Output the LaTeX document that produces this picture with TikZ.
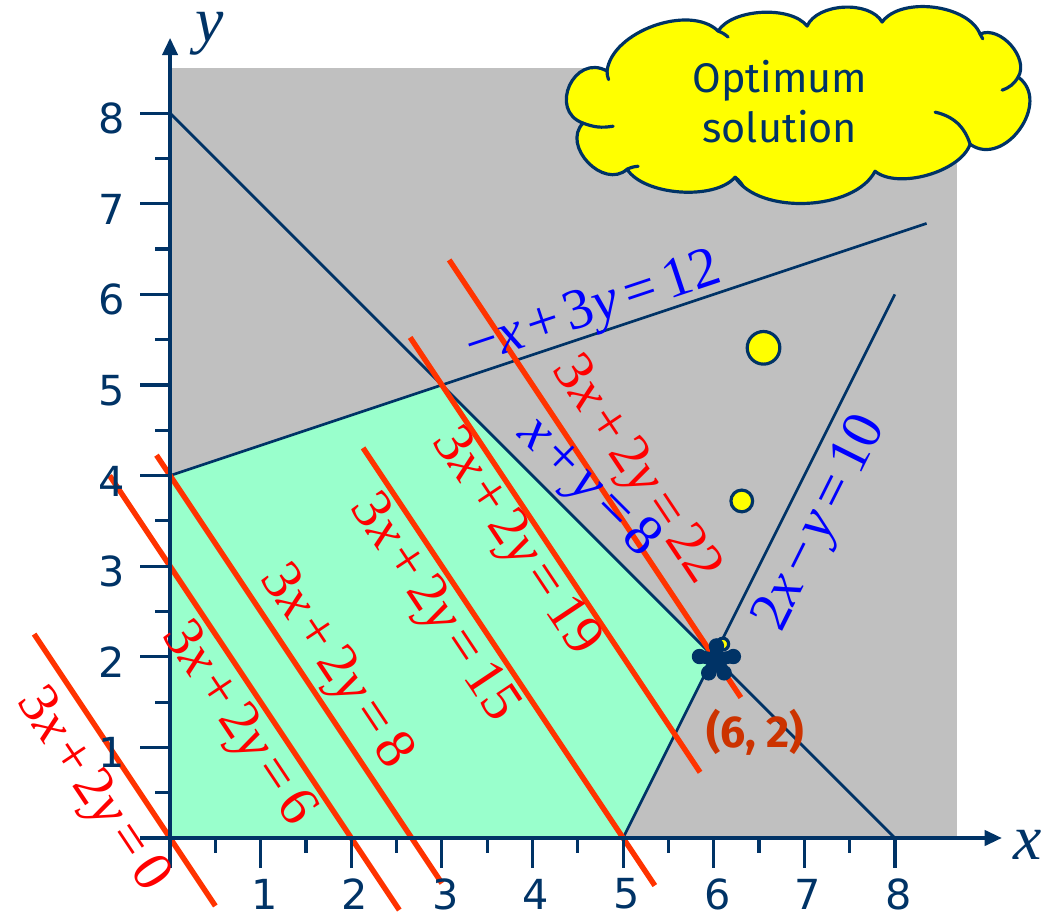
\documentclass[tikz,border=0pt]{standalone}
\usepackage{fontspec}
\setmainfont{Liberation Serif}
\newfontfamily\tickfont{DejaVu Sans}
\newfontfamily\comicfont{Fira Sans}
\usetikzlibrary{arrows.meta}
\definecolor{axblue}{HTML}{003366}
\definecolor{regiongray}{HTML}{C0C0C0}
\definecolor{feasgreen}{HTML}{99FFCC}
\definecolor{objred}{HTML}{FF3300}
\definecolor{eqred}{HTML}{FF0000}
\definecolor{eqblue}{HTML}{0000FF}
\definecolor{ptorange}{HTML}{CC3300}
\definecolor{cloudyellow}{HTML}{FFFF00}
\newcommand{\myplus}{\hspace{0.12em}+\hspace{0.12em}}
\newcommand{\myminus}{\hspace{0.12em}−\hspace{0.12em}}
\newcommand{\myeq}{\hspace{0.15em}=\hspace{0.15em}}
\newcommand{\vx}{\textit{x}}
\newcommand{\vy}{\textit{y}}
\tikzset{
  conline/.style={draw=axblue, line width=0.85pt},
  objline/.style={draw=objred, line width=1.7pt},
  axisline/.style={draw=axblue, line width=1pt, -{Triangle[length=0.19cm,width=0.17cm]}},
  tickline/.style={draw=axblue, line width=1pt},
  ticklabel/.style={text=axblue, font=\tickfont\fontsize{13}{15}\selectfont, inner sep=0pt},
  redlabel/.style={text=eqred, font=\fontsize{18}{20}\selectfont, inner sep=0pt, rotate=-56.31},
  bluelabel/.style={text=eqblue, font=\fontsize{18}{20}\selectfont, inner sep=0pt},
  axislabel/.style={text=axblue, font=\fontsize{20}{22}\selectfont\itshape, inner sep=0pt},
  bubble/.style={draw=axblue, fill=cloudyellow, line width=1pt},
  cloudarc/.style={draw=axblue, line width=1pt, line cap=round},
}
\begin{document}
\begin{tikzpicture}
\useasboundingbox (-1.877,-0.839) rectangle (9.745,9.249);
% regions
\fill[regiongray] (0,0) rectangle (8.69,8.5);
\fill[feasgreen] (0,0) -- (5,0) -- (6,2) -- (3,5) -- (0,4) -- cycle;
% constraint lines
\coordinate (c1a) at (0,8);   \coordinate (c1b) at (8,0);
\coordinate (c2a) at (0,4);   \coordinate (c2b) at (8.35,6.783);
\coordinate (c3a) at (5,0);   \coordinate (c3b) at (8,6);
\draw[conline] (c1a) -- (c1b);
\draw[conline] (c2a) -- (c2b);
\draw[conline] (c3a) -- (c3b);
% objective lines 3x+2y=k
\coordinate (o0a) at (-1.5,2.25);   \coordinate (o0b) at (0.5,-0.75);
\coordinate (o6a) at (-0.667,4);    \coordinate (o6b) at (2.53,-0.795);
\coordinate (o8a) at (-0.15,4.225); \coordinate (o8b) at (3.0,-0.5);
\coordinate (o15a) at (2.13,4.305); \coordinate (o15b) at (5.35,-0.525);
\coordinate (o19a) at (2.65,5.525); \coordinate (o19b) at (5.85,0.725);
\coordinate (o22a) at (3.08,6.38);  \coordinate (o22b) at (6.3,1.55);
\foreach \k in {0,6,8,15,19,22} \draw[objline] (o\k a) -- (o\k b);
% axes
\coordinate (O) at (0,0);
\coordinate (xend) at (9.18,0);
\coordinate (yend) at (0,8.83);
\draw[axisline] (O) -- (xend);
\draw[axisline] (O) -- (yend);
\foreach \i in {0,...,8} {
  \draw[tickline] (\i,0) -- (\i,-0.33);
  \draw[tickline] (0,\i) -- (-0.33,\i);
}
\foreach \i in {0.5,1.5,...,7.5} {
  \draw[tickline] (\i,0) -- (\i,-0.17);
  \draw[tickline] (0,\i) -- (-0.17,\i);
}
\foreach \i in {1,...,8} {
  \node[ticklabel] (xl\i) at (\i+0.04,-0.62) {\i};
  \node[ticklabel] (yl\i) at (-0.65,\i-0.06) {\i};
}
\node[axislabel] (xlab) at (9.46,-0.08) {x};
\node[axislabel] (ylab) at (0.44,8.88) {y};
% objective labels
\node[redlabel] (l0) at (-0.87,0.52) {3\vx\myplus 2\vy\myeq 0};
\node[redlabel] (l6) at (0.74,1.25) {3\vx\myplus 2\vy\myeq 6};
\node[redlabel] (l8) at (1.82,1.88) {3\vx\myplus 2\vy\myeq 8};
\node[redlabel] (l15) at (2.90,2.53) {3\vx\myplus 2\vy\myeq 15};
\node[redlabel] (l19) at (3.80,3.26) {3\vx\myplus 2\vy\myeq 19};
\node[redlabel] (l22) at (5.13,4.05) {3\vx\myplus 2\vy\myeq 22};
% constraint labels
\node[bluelabel, rotate=18.43] (b1) at (4.68,5.82) {−\vx\myplus 3\vy\myeq 12};
\node[bluelabel, rotate=-45] (b2) at (4.61,3.86) {\vx\myplus \vy\myeq 8};
\node[bluelabel, rotate=63.43] (b3) at (7.19,3.47) {2\vx\myminus \vy\myeq 10};
% thought bubbles
\coordinate (opt) at (6.03,1.97);
\draw[bubble] (6.10,2.14) circle (0.065);
\draw[bubble] (6.31,3.72) circle (0.12);
\draw[bubble] (6.55,5.41) circle (0.18);
% star at optimum
\foreach \a/\r in {90/0.15,170/0.19,10/0.19,240/0.17,300/0.17} {
  \draw[axblue, line width=4pt, line cap=round] (opt) -- ++(\a:\r);
  \fill[axblue] (opt) ++(\a:\r) circle (0.085);
}
\fill[axblue] (opt) circle (0.11);
\node[text=ptorange, font=\comicfont\bfseries\fontsize{14}{16}\selectfont, inner sep=0pt] (ptlab) at (6.46,1.17) {(6, 2)};
% cloud
\coordinate (k1) at (4.823,8.464);
\coordinate (k2) at (6.049,8.906);
\coordinate (k3) at (7.031,8.961);
\coordinate (k4) at (7.859,9.006);
\coordinate (k5) at (8.940,8.873);
\coordinate (k6) at (9.360,8.398);
\coordinate (k7) at (8.830,7.657);
\coordinate (k8) at (7.781,7.359);
\coordinate (k9) at (6.236,7.293);
\coordinate (k10) at (5.044,7.381);
\coordinate (k11) at (4.558,7.890);
\filldraw[bubble, line join=round]
  (k11) to[bend left=95, looseness=1.68] (k1)
        to[bend left=64, looseness=0.86] (k2)
        to[bend left=55, looseness=0.76] (k3)
        to[bend left=63, looseness=0.86] (k4)
        to[bend left=61, looseness=0.83] (k5)
        to[bend left=73, looseness=0.98] (k6)
        to[bend left=90, looseness=1.31] (k7)
        to[bend left=55, looseness=0.76] (k8)
        to[bend left=60, looseness=0.82] (k9)
        to[bend left=53, looseness=0.74] (k10)
        to[bend left=88, looseness=1.26] (k11) -- cycle;
\coordinate (m11) at (4.890,7.856);
\coordinate (m10) at (5.166,7.414);
\coordinate (m6) at (9.183,8.254);
\coordinate (m7) at (8.444,8.011);
\coordinate (m9) at (6.325,7.193);
\coordinate (m2) at (6.159,8.840);
\coordinate (m1) at (4.840,8.370);
\coordinate (m5) at (8.970,8.820);
\draw[cloudarc] (k11) to[bend right=15] (m11);
\draw[cloudarc] (k10) to[bend left=10] (m10);
\draw[cloudarc] (k6) to[bend left=20] (m6);
\draw[cloudarc] (k7) to[bend right=30] (m7);
\draw[cloudarc] (k9) to[bend left=10] (m9);
\draw[cloudarc] (k2) to[bend left=10] (m2);
\draw[cloudarc] (k1) to[bend right=10] (m1);
\draw[cloudarc] (k5) to[bend left=10] (m5);
\node[text=axblue, font=\comicfont\fontsize{13}{15.7}\selectfont, align=center, inner sep=0pt] (cloudtext) at (6.73,8.13) {Optimum\\solution};
\end{tikzpicture}
\end{document}
